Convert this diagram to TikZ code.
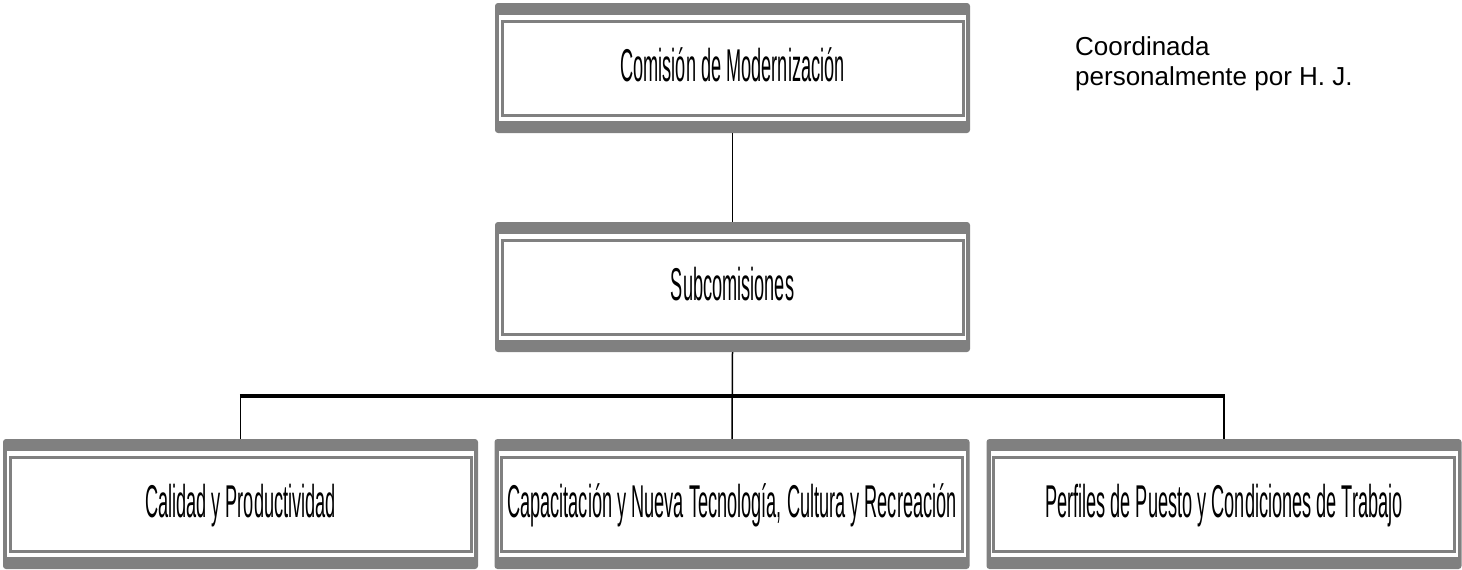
\documentclass[tikz,border=0pt]{standalone}
\usepackage{fontspec}
\setmainfont{Liberation Sans}
\newfontfamily\narrowfont[FakeStretch=0.395]{Liberation Sans}
\definecolor{framegray}{RGB}{128,128,128}
\begin{document}
\begin{tikzpicture}[x=1pt,y=-1pt,
  orgbox/.style={rectangle, rounded corners=3pt, fill=framegray,
    minimum width=475pt, minimum height=130pt, inner sep=0pt,
    text height=33pt, text depth=6pt,
    font=\narrowfont\fontsize{46}{50}\selectfont,
    path picture={
      \fill[white,sharp corners] ([xshift=4pt,yshift=-12pt]path picture bounding box.north west)
        rectangle ([xshift=-4pt,yshift=12pt]path picture bounding box.south east);
      \draw[framegray,line width=3pt,sharp corners] ([xshift=7pt,yshift=-18pt]path picture bounding box.north west)
        rectangle ([xshift=-7pt,yshift=18pt]path picture bounding box.south east);
    }},
  link/.style={draw=black, line width=1.5pt},
  hbar/.style={draw=black, line width=3.5pt, shorten <=-0.75pt, shorten >=-0.75pt},
  note/.style={font=\fontsize{26}{30}\selectfont, align=left, inner sep=0pt}]
\useasboundingbox[fill=white] (0,0) rectangle (1462,570);

\node[orgbox] (top) at (732.5,68) {Comisión de Modernización};
\node[orgbox] (mid) at (732.5,287) {Subcomisiones};
\node[orgbox] (b1) at (240.5,504) {Calidad y Productividad};
\node[orgbox] (b2) at (732,504) {Capacitación y Nueva Tecnología, Cultura y Recreación};
\node[orgbox] (b3) at (1224,504) {Perfiles de Puesto y Condiciones de Trabajo};

\node[note, anchor=base west] (coord) at (1075,85) {Coordinada\\personalmente por H. J.};

\coordinate (barc) at (733,396);
\draw[link] (top.south) -- (mid.north);
\draw[link] (mid.south) -- (b2.north);
\draw[hbar] (b1.north |- barc) -- (b3.north |- barc);
\draw[link] (b1.north |- barc) -- (b1.north);
\draw[link] (b3.north |- barc) -- (b3.north);
\end{tikzpicture}
\end{document}
